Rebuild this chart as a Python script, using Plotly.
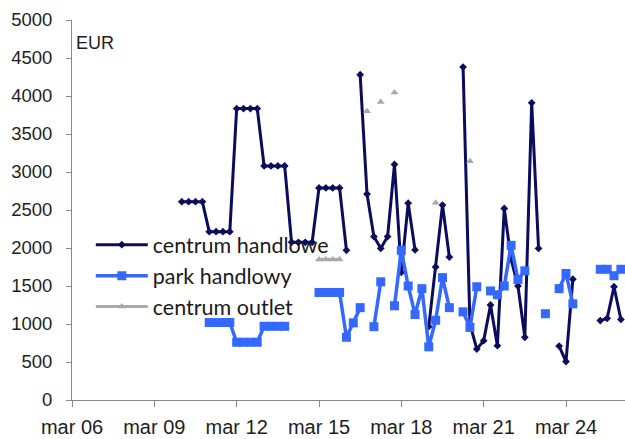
import plotly.graph_objects as go

# quarterly categories: mar 06 ... mar 26
months = ["mar", "cze", "wrz", "gru"]
years = [f"{y:02d}" for y in range(6, 27)]
quarters = [f"{m} {y}" for y in years for m in months][:81]

tick_labels = ["mar 06", "mar 09", "mar 12", "mar 15", "mar 18", "mar 21", "mar 24"]

N = None
centrum_handlowe = (
    [N] * 16
    + [2610] * 4 + [2215] * 4 + [3835] * 4 + [3080] * 4 + [2075] * 4 + [2790] * 4
    + [1970, N, 4280, 2710,
       2150, 1995, 2150, 3100,
       1680, 2590, 1975, N,
       965, 1750, 2565, 1880,
       N, 4380, 1000, 670,
       780, 1250, 715, 2520,
       1850, 1500, 825, 3910,
       1995, N, N, 710,
       505, 1590, N, N,
       N, 1045, 1075, 1490,
       1060]
)
park_handlowy = (
    [N] * 20
    + [1020] * 4 + [760] * 4 + [970] * 4 + [N] * 4 + [1415] * 4
    + [825, 1015, 1215, N,
       965, 1555, N, 1240,
       1970, 1500, 1125, 1465,
       700, 1050, 1610, 1215,
       N, 1160, 955, 1490,
       N, 1435, 1385, 1500,
       2035, 1585, 1700, N,
       N, 1135, N, 1465,
       1665, 1265, N, N,
       N, 1720, 1720, 1635,
       1720]
)
centrum_outlet = (
    [N] * 36
    + [1850] * 4
    + [N, N, N, 3800,
       N, 3920, N, 4045,
       N, N, N, N,
       N, 2595, N, N,
       N, N, 3140, N]
    + [N] * 21
)

fig = go.Figure()
fig.add_trace(go.Scatter(
    x=quarters, y=centrum_handlowe, name="centrum handlowe", mode="lines+markers",
    line=dict(color="#0b0c5e", width=3), marker=dict(symbol="diamond", size=6, color="#0b0c5e"),
))
fig.add_trace(go.Scatter(
    x=quarters, y=park_handlowy, name="park handlowy", mode="lines+markers",
    line=dict(color="#3468ff", width=3.5), marker=dict(symbol="square", size=9, color="#3468ff"),
))
fig.add_trace(go.Scatter(
    x=quarters, y=centrum_outlet, name="centrum outlet", mode="lines+markers",
    line=dict(color="#a9a9a9", width=3), marker=dict(symbol="triangle-up", size=7, color="#a9a9a9"),
))

fig.update_layout(
    width=625, height=439,
    margin=dict(l=72, r=0, t=20, b=39, autoexpand=False),
    paper_bgcolor="white", plot_bgcolor="white",
    showlegend=True,
    legend=dict(
        x=0.034, y=0.4626, xanchor="left", yanchor="top",
        bgcolor="rgba(0,0,0,0)", font=dict(family="Lato", size=21.5, color="#1a1a1a"),
        itemwidth=52, tracegroupgap=0,
    ),
    annotations=[dict(
        text="EUR", xref="paper", yref="paper", x=0.004, y=0.94, xanchor="left", yanchor="middle",
        showarrow=False, font=dict(family="Liberation Sans Narrow, Liberation Sans, Arial", size=18, color="#1e1e1e"),
    )],
)
fig.update_xaxes(
    type="category", categoryorder="array", categoryarray=quarters,
    range=[0, 80.6], tickmode="array", tickvals=tick_labels, ticktext=tick_labels,
    tickangle=0, ticklabelstandoff=3,
    ticks="outside", ticklen=6, tickcolor="#888888", showline=True, linecolor="#888888", linewidth=1,
    showgrid=False, zeroline=False,
    tickfont=dict(family="Liberation Sans, Arial", size=20, color="#1e1e1e"),
)
fig.update_yaxes(
    range=[0, 5000], dtick=500, tick0=0,
    ticks="outside", ticklen=5, tickcolor="#888888", showline=True, linecolor="#888888", linewidth=1,
    showgrid=False, zeroline=False, ticklabelstandoff=10,
    tickfont=dict(family="Liberation Sans, Arial", size=18.5, color="#1e1e1e"),
)
fig.write_html("out.html")
